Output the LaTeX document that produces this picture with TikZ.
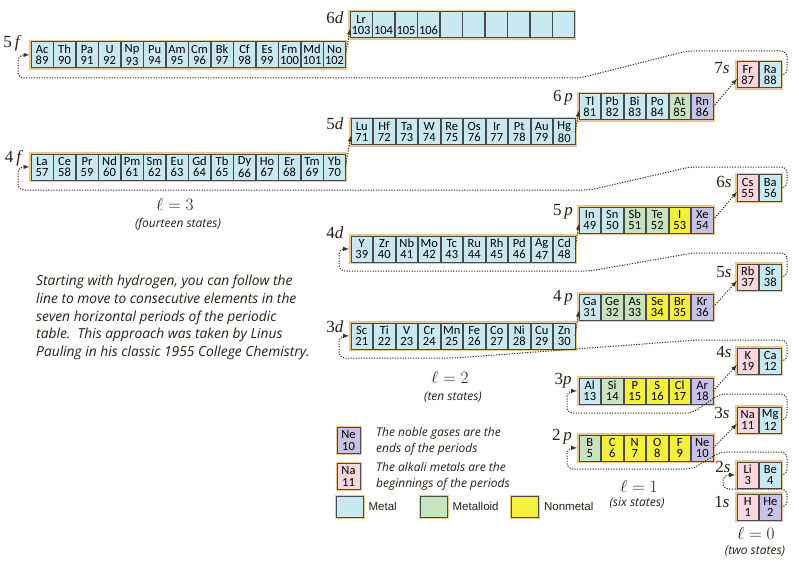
\documentclass[tikz,border=0pt]{standalone}
\usepackage[no-math]{fontspec}
\setmainfont{Carlito}
\newfontfamily\orbfont{Liberation Serif}
\newfontfamily\keyfont{Liberation Sans}
\newfontfamily\notefont{Open Sans}
\usetikzlibrary{arrows, calc, matrix, positioning}
\definecolor{metal}{HTML}{C8E8F2}
\definecolor{metalloid}{HTML}{C8E4BE}
\definecolor{nonmetal}{HTML}{F5F03C}
\definecolor{noblegas}{HTML}{C8C3E6}
\definecolor{alkali}{HTML}{FAD7DC}
\definecolor{cellline}{HTML}{4A4A4A}
\definecolor{glow}{HTML}{E8C890}
\definecolor{ink}{HTML}{2A2014}
\definecolor{trail}{HTML}{3E2E18}
\newcommand\elstrut{\rule[-1.5pt]{0pt}{11.5pt}}
\newcommand\el[2]{\vbox{\hsize=21pt\parindent=0pt\centering
  \baselineskip=11.5pt\elstrut#1\par\elstrut#2\par}}
\tikzset{
  % element cell
  elem/.style={
    draw=cellline
    , fill=metal
    , line width=0.8pt
    , minimum width=21.7pt
    , minimum height=26pt
    , inner sep=0pt
    , outer sep=0pt
    , anchor=center
    , text=black
    , font=\fontsize{12.5}{11.5}\selectfont
  },
  mtd/.style={fill=metalloid},
  nmt/.style={fill=nonmetal},
  ngas/.style={fill=noblegas},
  alk/.style={fill=alkali},
}
\tikzset{
  % one subshell row
  shell/.style={
    matrix of nodes
    , draw=glow
    , line width=3pt
    , inner sep=0pt
    , column sep=0pt
    , anchor=north west
    , nodes={elem}
  },
}
\tikzset{
  % dotted arrow from element to element
  jump/.style={
    draw=trail
    , line width=1pt
    , dash pattern=on 1.2pt off 1.4pt
    , rounded corners=6pt
    , >=latex
    , ->
  },
  orb/.style={font=\orbfont\fontsize{17}{17}\selectfont, text=ink, inner sep=0pt},
  ell/.style={font=\fontsize{16}{16}\selectfont, text=ink, inner sep=0pt},
  states/.style={font=\notefont\itshape\fontsize{12}{12}\selectfont, text=ink, inner sep=0pt},
  note/.style={font=\notefont\itshape\fontsize{12}{16}\selectfont, text=ink, inner sep=0pt, align=left},
  keyglow/.style={preaction={draw=glow, line width=3pt}},
  swatch/.style={draw=cellline, line width=0.8pt, minimum width=27pt, minimum height=21pt,
    inner sep=0pt, keyglow},
  keytext/.style={font=\keyfont\fontsize{11.5}{11.5}\selectfont, text=ink, inner sep=0pt},
}

\begin{document}
\begin{tikzpicture}[x=1pt, y=-1pt]
  \useasboundingbox[fill=white] (0,0) rectangle (799,564);

  % rows of the table
  \matrix (r5f) [shell, at={(29.3,40)}] {
    \el{Ac}{89} & \el{Th}{90} & \el{Pa}{91} & \el{U}{92} & \el{Np}{93} & \el{Pu}{94} & \el{Am}{95}
    & \el{Cm}{96} & \el{Bk}{97} & \el{Cf}{98} & \el{Es}{99} & \el{Fm}{100} & \el{Md}{101} & \el{No}{102} \\
  };
  \matrix (r6d) [shell, at={(348.3,10)}] {
    \el{Lr}{103} & \el{}{104} & \el{}{105} & \el{}{106} & \el{}{} & \el{}{} & \el{}{} & \el{}{} & \el{}{} & \el{}{} \\
  };
  \matrix (r7s) [shell, at={(735,60)}] {
    |[alk]| \el{Fr}{87} & \el{Ra}{88} \\
  };
  \matrix (r4f) [shell, at={(29.3,152)}] {
    \el{La}{57} & \el{Ce}{58} & \el{Pr}{59} & \el{Nd}{60} & \el{Pm}{61} & \el{Sm}{62} & \el{Eu}{63}
    & \el{Gd}{64} & \el{Tb}{65} & \el{Dy}{66} & \el{Ho}{67} & \el{Er}{68} & \el{Tm}{69} & \el{Yb}{70} \\
  };
  \matrix (r5d) [shell, at={(349,117)}] {
    \el{Lu}{71} & \el{Hf}{72} & \el{Ta}{73} & \el{W}{74} & \el{Re}{75} & \el{Os}{76} & \el{Ir}{77}
    & \el{Pt}{78} & \el{Au}{79} & \el{Hg}{80} \\
  };
  \matrix (r6p) [shell, at={(577,92)}] {
    \el{Tl}{81} & \el{Pb}{82} & \el{Bi}{83} & \el{Po}{84} & |[mtd]| \el{At}{85} & |[ngas]| \el{Rn}{86} \\
  };
  \matrix (r6s) [shell, at={(735,173)}] {
    |[alk]| \el{Cs}{55} & \el{Ba}{56} \\
  };
  \matrix (r4d) [shell, at={(349,234)}] {
    \el{Y}{39} & \el{Zr}{40} & \el{Nb}{41} & \el{Mo}{42} & \el{Tc}{43} & \el{Ru}{44} & \el{Rh}{45}
    & \el{Pd}{46} & \el{Ag}{47} & \el{Cd}{48} \\
  };
  \matrix (r5p) [shell, at={(577,205)}] {
    \el{In}{49} & \el{Sn}{50} & |[mtd]| \el{Sb}{51} & |[mtd]| \el{Te}{52} & |[nmt]| \el{I}{53} & |[ngas]| \el{Xe}{54} \\
  };
  \matrix (r5s) [shell, at={(735,262)}] {
    |[alk]| \el{Rb}{37} & \el{Sr}{38} \\
  };
  \matrix (r3d) [shell, at={(349,321)}] {
    \el{Sc}{21} & \el{Ti}{22} & \el{V}{23} & \el{Cr}{24} & \el{Mn}{25} & \el{Fe}{26} & \el{Co}{27}
    & \el{Ni}{28} & \el{Cu}{29} & \el{Zn}{30} \\
  };
  \matrix (r4p) [shell, at={(577,292)}] {
    \el{Ga}{31} & |[mtd]| \el{Ge}{32} & |[mtd]| \el{As}{33} & |[nmt]| \el{Se}{34} & |[nmt]| \el{Br}{35} & |[ngas]| \el{Kr}{36} \\
  };
  \matrix (r4s) [shell, at={(735,346)}] {
    |[alk]| \el{K}{19} & \el{Ca}{12} \\
  };
  \matrix (r3p) [shell, at={(577,376)}] {
    \el{Al}{13} & |[mtd]| \el{Si}{14} & |[nmt]| \el{P}{15} & |[nmt]| \el{S}{16} & |[nmt]| \el{Cl}{17} & |[ngas]| \el{Ar}{18} \\
  };
  \matrix (r3s) [shell, at={(735,405)}] {
    |[alk]| \el{Na}{11} & \el{Mg}{12} \\
  };
  \matrix (r2p) [shell, at={(577,433)}] {
    |[mtd]| \el{B}{5} & |[nmt]| \el{C}{6} & |[nmt]| \el{N}{7} & |[nmt]| \el{O}{8} & |[nmt]| \el{F}{9} & |[ngas]| \el{Ne}{10} \\
  };
  \matrix (r2s) [shell, at={(735,460)}] {
    |[alk]| \el{Li}{3} & \el{Be}{4} \\
  };
  \matrix (r1s) [shell, at={(735,492)}] {
    |[alk]| \el{H}{1} & |[ngas]| \el{He}{2} \\
  };

  % subshell labels
  \node[orb] (l5f) at (12.5,43) {5\,\textit{f}};
  \node[orb] (l6d) at (335,17.5) {6\textit{d}};
  \node[orb] (l7s) at (722,68) {7\textit{s}};
  \node[orb] (l4f) at (14,158) {4\,\textit{f}};
  \node[orb] (l5d) at (335,124) {5\textit{d}};
  \node[orb] (l6p) at (563,98) {6\,\textit{p}};
  \node[orb] (l6s) at (724,182) {6\textit{s}};
  \node[orb] (l4d) at (335,233) {4\textit{d}};
  \node[orb] (l5p) at (563,212) {5\,\textit{p}};
  \node[orb] (l5s) at (724,272) {5\textit{s}};
  \node[orb] (l3d) at (335,327) {3\textit{d}};
  \node[orb] (l4p) at (563,298) {4\,\textit{p}};
  \node[orb] (l4s) at (724,352) {4\textit{s}};
  \node[orb] (l3p) at (563,381) {3\textit{p}};
  \node[orb] (l3s) at (722,413) {3\textit{s}};
  \node[orb] (l2p) at (562,437) {2\,\textit{p}};
  \node[orb] (l2s) at (723,467) {2\textit{s}};
  \node[orb] (l1s) at (722,502) {1\textit{s}};

  % steps to the next row
  \draw[jump] (r1s-1-2.east) -| (787,489) -- (723,489) |- (r2s.west);
  \draw[jump] (r2s-1-2.east) -| (787,452) -- (720,452) -- (692,469) -- (567,469) |- (r2p.west);
  \draw[jump] (r2p-1-6.east) -- ($(r3s-1-1.west)+(0,4)$);
  \draw[jump] (r3s-1-2.east) -| (787,394) -- (720,394) -- (692,413) -- (567,413) |- (r3p.west);
  \draw[jump] (r3p-1-6.east) -- ($(r4s-1-1.west)+(0,4)$);
  \draw[jump] (r4s-1-2.east) -| (787,340) -- (697,340) -- (455,358) -- (339,358) |- (r3d.west);
  \draw[jump] (r3d-1-10.east) -- ($(r4p-1-1.west)+(0,4)$);
  \draw[jump] (r4p-1-6.east) -- ($(r5s-1-1.west)+(0,4)$);
  \draw[jump] (r5s-1-2.east) -| (787,253) -- (693,253) -- (590,271) -- (339,271) |- (r4d.west);
  \draw[jump] (r4d-1-10.east) -- ($(r5p-1-1.west)+(0,4)$);
  \draw[jump] (r5p-1-6.east) -- ($(r6s-1-1.west)+(0,4)$);
  \draw[jump] (r6s-1-2.east) -| (787,167) -- (690,167) -- (590,190) -- (18,190) |- (r4f.west);
  \draw[jump] (r4f-1-14.east) -- ($(r5d-1-1.west)+(0,4)$);
  \draw[jump] (r5d-1-10.east) -- ($(r6p-1-1.west)+(0,4)$);
  \draw[jump] (r6p-1-6.east) -- ($(r7s-1-1.west)+(0,4)$);
  \draw[jump] (r7s-1-2.east) -| (787,51) -- (687,51) -- (580,78) -- (18,78) |- (r5f.west);
  \draw[jump] (r5f-1-14.east) -- ($(r6d-1-1.west)+(0,4)$);

  % l values
  \node[ell] (e3) at (175,204) {$\ell = 3$};
  \node[states] (s3) at (178,224) {(fourteen states)};
  \node[ell] (e2) at (450,377) {$\ell = 2$};
  \node[states] (s2) at (453,397) {(ten states)};
  \node[ell] (e1) at (639,486) {$\ell = 1$};
  \node[states] (s1) at (637,503) {(six states)};
  \node[ell] (e0) at (756,533) {$\ell = 0$};
  \node[states] (s0) at (755,551) {(two states)};

  % text and key
  \node[note, font=\notefont\itshape\fontsize{13.8}{17.7}\selectfont, anchor=north west] (story) at (36,275)
    {Starting with hydrogen, you can follow the\\
     line to move to consecutive elements in the\\
     seven horizontal periods of the periodic\\
     table.~~This approach was taken by Linus\\
     Pauling in his classic 1955 College Chemistry.};
  \node[elem, ngas, keyglow, minimum width=23pt] (kng) at (348.5,440) {\el{Ne}{10}};
  \node[elem, alk, keyglow, minimum width=23pt] (kalk) at (348.5,476) {\el{Na}{11}};
  \node[note, anchor=west] (tng) at (376,441) {The noble gases are the\\ends of the periods};
  \node[note, anchor=west] (talk) at (376,476) {The alkali metals are the\\beginnings of the periods};
  \node[swatch, fill=metal] (kmt) at (349.5,506.5) {};
  \node[keytext, right=5pt of kmt] (tmt) {Metal};
  \node[swatch, fill=metalloid] (kmtd) at (433.5,506.5) {};
  \node[keytext, right=5pt of kmtd] (tmtd) {Metalloid};
  \node[swatch, fill=nonmetal] (knmt) at (525,506.5) {};
  \node[keytext, right=5pt of knmt] (tnmt) {Nonmetal};
\end{tikzpicture}
\end{document}
